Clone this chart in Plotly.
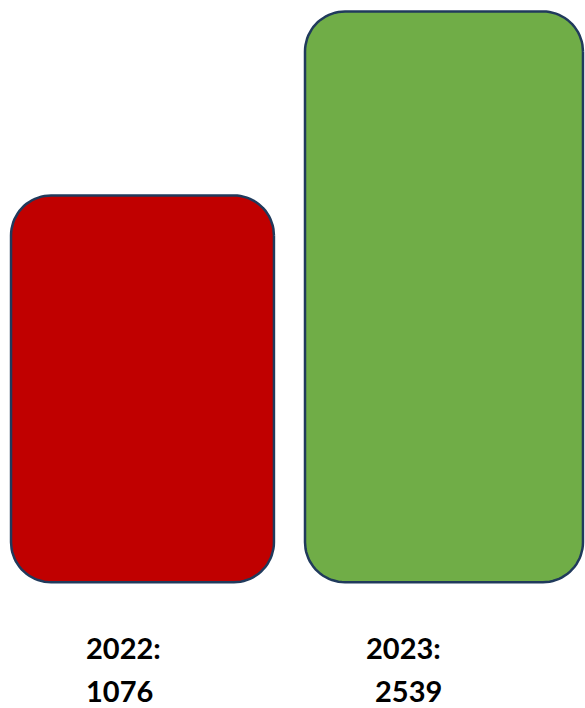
import numpy as np
import plotly.graph_objects as go

# ---- data ----
years = ["2022", "2023"]
values = [1076, 2539]
colors = ["#C00000", "#70AD47"]

# ---- layout constants ----
W, H = 585, 708
BASE = -2000                 # bar baseline (value units)
Y_RANGE = [-3000, 2630]
CENTERS = [0.0, 1.0]
X_RANGE = [-0.4726, 1.4677]
BAR_WIDTHS = [0.872, 0.922]
RADIUS_PX = 40
EDGE = "#203A5C"

px_per_x = W / (X_RANGE[1] - X_RANGE[0])
px_per_y = H / (Y_RANGE[1] - Y_RANGE[0])


def rounded_rect(x0, x1, y0, y1, r_px):
    rx = r_px / px_per_x
    ry = r_px / px_per_y
    xs, ys = [], []
    corners = [
        (x1 - rx, y1 - ry, 0, 90),
        (x0 + rx, y1 - ry, 90, 180),
        (x0 + rx, y0 + ry, 180, 270),
        (x1 - rx, y0 + ry, 270, 360),
    ]
    for cx, cy, a0, a1 in corners:
        t = np.radians(np.linspace(a0, a1, 20))
        xs.extend(cx + rx * np.cos(t))
        ys.extend(cy + ry * np.sin(t))
    xs.append(xs[0])
    ys.append(ys[0])
    return xs, ys


fig = go.Figure()
for yr, v, c, cx, w in zip(years, values, colors, CENTERS, BAR_WIDTHS):
    xs, ys = rounded_rect(cx - w / 2, cx + w / 2, BASE, v, RADIUS_PX)
    fig.add_trace(go.Scatter(
        x=xs, y=ys, mode="lines", fill="toself", fillcolor=c,
        line=dict(color=EDGE, width=2.5), name=yr, hoverinfo="skip",
        showlegend=False,
    ))

label_font = dict(family="Lato, 'Open Sans', sans-serif", size=29, color="#000000")
label_x_first = [-0.19, 0.738]
label_x_second = [-0.19, 0.768]
for yr, v, lx1, lx2 in zip(years, values, label_x_first, label_x_second):
    fig.add_annotation(x=lx1, y=647, xref="x", yref="paper", yanchor="middle",
                       xanchor="left", text=f"<b>{yr}:</b>", showarrow=False,
                       font=label_font, borderpad=0)
    fig.add_annotation(x=lx2, y=690, xref="x", yref="paper", yanchor="middle",
                       xanchor="left", text=f"<b>{v}</b>", showarrow=False,
                       font=label_font, borderpad=0)

# convert annotation y (pixel from top) to paper fraction
for a in fig.layout.annotations:
    a.y = 1 - a.y / H

fig.update_layout(
    width=W, height=H,
    margin=dict(l=0, r=0, t=0, b=0),
    paper_bgcolor="white", plot_bgcolor="white",
    xaxis=dict(range=X_RANGE, visible=False, fixedrange=True),
    yaxis=dict(range=Y_RANGE, visible=False, fixedrange=True),
    showlegend=False,
)

fig.write_html(
    "out.html",
    config={"displayModeBar": False},
    post_script="document.body.style.margin='0';document.body.style.overflow='hidden';",
)
